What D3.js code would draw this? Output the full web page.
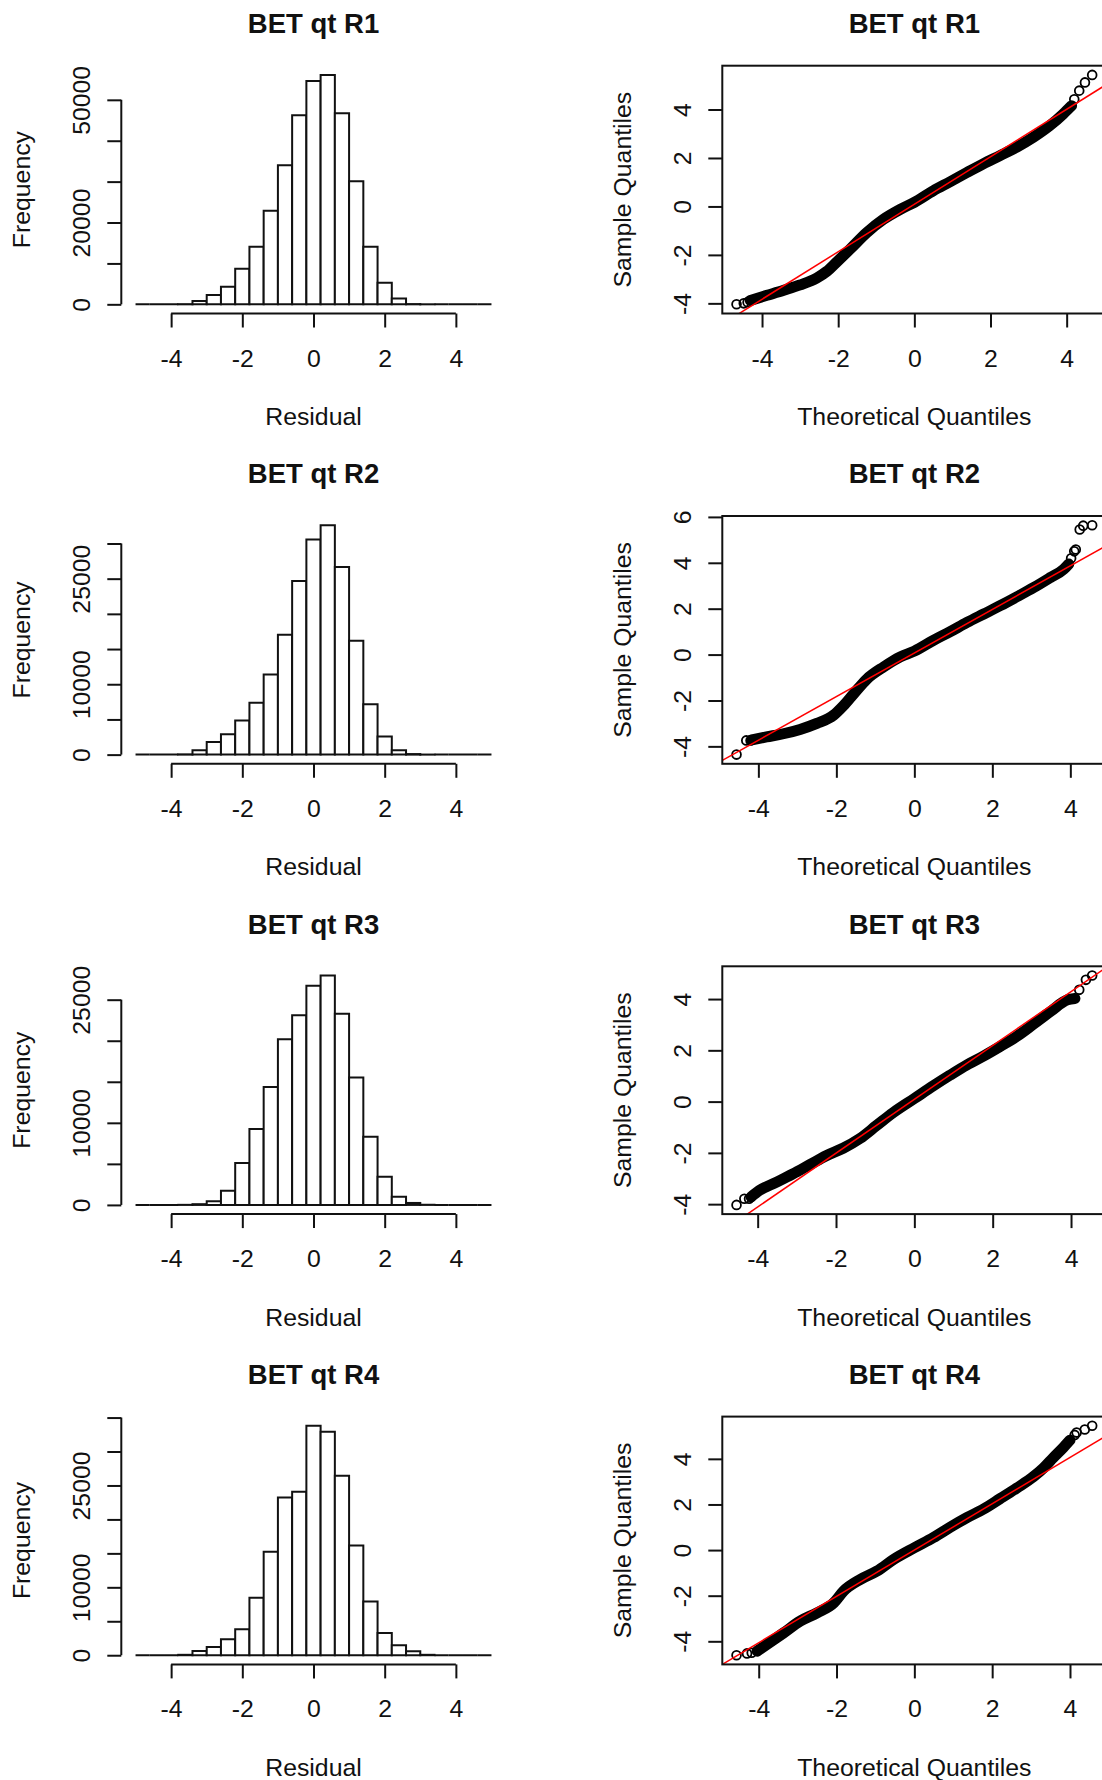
<!DOCTYPE html>
<html>
<head>
<meta charset="utf-8">
<script src="https://cdn.jsdelivr.net/npm/d3@7"></script>
<style>
	body { margin: 0; background: #fff; }
	svg text { font-family: "Liberation Sans", Arial, sans-serif; fill: #111; }
	.title { font-weight: bold; font-size: 27.5px; }
	.label { font-size: 24.8px; }
	.tick text { font-size: 24.8px; }
</style>
</head>
<body>
<svg id="chart" width="1102" height="1780"></svg>
<script>

// panel titles
const titles = ['BET qt R1', 'BET qt R2', 'BET qt R3', 'BET qt R4'];

// histogram breaks (Residual) and bin counts
const breaks = [-5, -4.6, -4.2, -3.8, -3.4, -3, -2.6, -2.2, -1.8, -1.4, -1, -0.6, -0.2, 0.2, 0.6, 1, 1.4, 1.8, 2.2, 2.6, 3, 3.4, 3.8, 4.2, 4.6, 5];
const countsR1 = [0, 0, 0, 40, 800, 2280, 4300, 8700, 14070, 22900, 34000, 46200, 54600, 56100, 46700, 30100, 14070, 5300, 1400, 60, 10, 0, 0, 0, 0];
const countsR2 = [0, 0, 0, 40, 613, 1790, 2880, 4860, 7360, 11370, 17030, 24670, 30570, 32600, 26650, 16180, 7170, 2590, 613, 80, 10, 0, 0, 0, 0];
const countsR3 = [0, 0, 0, 10, 90, 445, 1740, 5100, 9260, 14360, 20190, 23100, 26700, 27950, 23300, 15530, 8290, 3440, 1010, 240, 20, 0, 0, 0, 0];
const countsR4 = [0, 0, 0, 60, 640, 1220, 2350, 3820, 8470, 15230, 23210, 24090, 33790, 32910, 26440, 16160, 7930, 3280, 1470, 590, 60, 0, 0, 0, 0];

// histogram y ticks, and the ones that carry a label
const freqTicksR1 = [0, 10000, 20000, 30000, 40000, 50000];
const freqTicksR2 = [0, 5000, 10000, 15000, 20000, 25000, 30000];
const freqTicksR3 = [0, 5000, 10000, 15000, 20000, 25000];
const freqTicksR4 = [0, 5000, 10000, 15000, 20000, 25000, 30000, 35000];
const freqLabelsR1 = [0, 20000, 50000];
const freqLabelsR2 = [0, 10000, 25000];
const freqLabelsR3 = [0, 10000, 25000];
const freqLabelsR4 = [0, 10000, 25000];

const residualTicks = [-4, -2, 0, 2, 4];
const theoTicks = [-4, -2, 0, 2, 4];

// QQ plots: dense band of points [theoretical, sample] and the loose points at both tails
const qqBandR1 = [[-4.31, -3.88], [-3.87, -3.67], [-3.43, -3.46], [-3.0, -3.24], [-2.56, -2.95], [-2.30, -2.68], [-2.03, -2.28], [-1.68, -1.75], [-1.25, -1.08], [-0.81, -0.53], [-0.37, -0.12], [0, 0.17], [0.50, 0.65], [0.94, 1.02], [1.38, 1.40], [1.81, 1.76], [2.25, 2.10], [2.69, 2.45], [3.13, 2.86], [3.56, 3.34], [3.91, 3.82], [4.13, 4.16]];
const qqTailR1 = [[-4.67, -4.04], [-4.48, -4.0], [-4.38, -3.95], [4.20, 4.42], [4.33, 4.78], [4.48, 5.12], [4.67, 5.43]];
const qqBandR2 = [[-4.17, -3.72], [-3.79, -3.59], [-3.36, -3.45], [-2.93, -3.26], [-2.50, -3.0], [-2.07, -2.64], [-1.82, -2.23], [-1.56, -1.72], [-1.22, -1.07], [-0.79, -0.54], [-0.36, -0.10], [0, 0.15], [0.49, 0.62], [0.92, 1.00], [1.35, 1.40], [1.78, 1.77], [2.20, 2.13], [2.63, 2.52], [3.06, 2.92], [3.49, 3.36], [3.83, 3.72], [3.96, 3.95]];
const qqTailR2 = [[-4.56, -4.36], [-4.31, -3.74], [-4.20, -3.74], [4.02, 4.2], [4.10, 4.5], [4.14, 4.58], [4.24, 5.45], [4.33, 5.62], [4.56, 5.64]];
const qqBandR3 = [[-4.17, -3.72], [-3.96, -3.47], [-3.53, -3.15], [-3.10, -2.82], [-2.68, -2.47], [-2.25, -2.11], [-1.82, -1.82], [-1.39, -1.44], [-0.97, -0.94], [-0.54, -0.43], [0, 0.12], [0.49, 0.62], [0.91, 1.03], [1.34, 1.43], [1.77, 1.78], [2.20, 2.16], [2.62, 2.55], [3.05, 3.03], [3.48, 3.52], [3.91, 3.97], [4.10, 4.02]];
const qqTailR3 = [[-4.54, -4.03], [-4.34, -3.79], [-4.22, -3.79], [4.21, 4.36], [4.38, 4.75], [4.54, 4.92]];
const qqBandR4 = [[-4.04, -4.43], [-3.79, -4.14], [-3.36, -3.63], [-2.93, -3.11], [-2.50, -2.75], [-2.07, -2.31], [-1.82, -1.80], [-1.39, -1.29], [-0.96, -0.92], [-0.53, -0.41], [0, 0.10], [0.49, 0.55], [0.92, 1.00], [1.35, 1.42], [1.78, 1.80], [2.20, 2.25], [2.63, 2.72], [3.06, 3.22], [3.32, 3.60], [3.57, 4.05], [3.83, 4.50], [4.00, 4.82]];
const qqTailR4 = [[-4.57, -4.61], [-4.30, -4.53], [-4.18, -4.50], [4.12, 5.05], [4.17, 5.15], [4.38, 5.29], [4.57, 5.45]];

// qqline: [intercept, slope]
const qqLines = [[0.09, 0.98], [0.07, 0.95], [0.09, 1.05], [0.0, 1.015]];

const sampleTicksR1 = [-4, -2, 0, 2, 4];
const sampleTicksR2 = [-4, -2, 0, 2, 4, 6];
const sampleTicksR3 = [-4, -2, 0, 2, 4];
const sampleTicksR4 = [-4, -2, 0, 2, 4];

// layout
const rowPitch = 450.3;
const plotTop = 65.7, plotBottom = 313.5;
const histLeft = 121.3, histRight = 505.7;
const qqLeft = 722.3, qqRight = 1106.4;
const ink = '#111';

let svg = d3.select('#chart');

// R style axis range: data range padded by 4% on each side
function padded(lo, hi) {
	let d = (hi - lo) * 0.04;
	return [lo - d, hi + d];
}

// plain hyphen for negatives, like R
function plain(d) {
	return String(d);
}

function addTitles(g, left, right, title, xLabel, yLabel) {
	let mid = (left + right) / 2;
	let cy = (plotTop + plotBottom) / 2;
	g.append('text').attr('class', 'title')
		.attr('x', mid).attr('y', plotTop - 32.5)
		.attr('text-anchor', 'middle').text(title);
	g.append('text').attr('class', 'label')
		.attr('x', mid).attr('y', plotBottom + 111.5)
		.attr('text-anchor', 'middle').text(xLabel);
	g.append('text').attr('class', 'label')
		.attr('text-anchor', 'middle')
		.attr('transform', 'translate(' + (left - 91.5) + ',' + cy + ') rotate(-90)')
		.text(yLabel);
}

function bottomAxis(g, x, ticks) {
	let ax = g.append('g').attr('transform', 'translate(0,' + plotBottom + ')')
		.call(d3.axisBottom(x).tickValues(ticks).tickSize(14).tickSizeOuter(0).tickFormat(plain));
	ax.select('.domain').remove();
	ax.selectAll('.tick line').attr('stroke', ink).attr('stroke-width', 2);
	ax.selectAll('.tick text').attr('y', 53).attr('dy', 0).attr('fill', ink);
	return ax;
}

function leftAxis(g, left, y, ticks, format) {
	let ax = g.append('g').attr('transform', 'translate(' + left + ',0)')
		.call(d3.axisLeft(y).tickValues(ticks).tickSize(14).tickSizeOuter(0).tickFormat(format));
	ax.select('.domain').remove();
	ax.selectAll('.tick line').attr('stroke', ink).attr('stroke-width', 2);
	// rotated labels, reading upwards, as in base R
	ax.selectAll('.tick text')
		.attr('transform', 'rotate(-90)')
		.attr('x', 0).attr('y', -31).attr('dy', 0)
		.attr('text-anchor', 'middle').attr('fill', ink);
	return ax;
}

function drawHist(row, counts, ticks, labels) {
	let g = svg.append('g').attr('transform', 'translate(0,' + (row * rowPitch) + ')');
	let x = d3.scaleLinear().domain(padded(breaks[0], breaks[breaks.length - 1])).range([histLeft, histRight]);
	let y = d3.scaleLinear().domain(padded(0, d3.max(counts))).range([plotBottom, plotTop]);

	// bars as paths so that empty bins still show as a flat line
	g.selectAll('path.bar').data(counts).enter().append('path')
		.attr('class', 'bar')
		.attr('d', function(d, i) {
			let x0 = x(breaks[i]), x1 = x(breaks[i + 1]);
			return 'M' + x0 + ',' + y(0) + 'V' + y(d) + 'H' + x1 + 'V' + y(0) + 'Z';
		})
		.attr('fill', '#fff').attr('stroke', ink).attr('stroke-width', 2);

	bottomAxis(g, x, residualTicks);
	g.append('line')
		.attr('x1', x(residualTicks[0])).attr('x2', x(residualTicks[residualTicks.length - 1]))
		.attr('y1', plotBottom).attr('y2', plotBottom)
		.attr('stroke', ink).attr('stroke-width', 2);

	leftAxis(g, histLeft, y, ticks, function(d) {
		return labels.indexOf(d) >= 0 ? String(d) : '';
	});
	g.append('line')
		.attr('x1', histLeft).attr('x2', histLeft)
		.attr('y1', y(ticks[0])).attr('y2', y(ticks[ticks.length - 1]))
		.attr('stroke', ink).attr('stroke-width', 2);

	addTitles(g, histLeft, histRight, titles[row], 'Residual', 'Frequency');
}

function drawQQ(row, band, tail, line, ticks) {
	let g = svg.append('g').attr('transform', 'translate(0,' + (row * rowPitch) + ')');
	let all = band.concat(tail);
	let x = d3.scaleLinear().domain(padded(d3.min(all, d => d[0]), d3.max(all, d => d[0]))).range([qqLeft, qqRight]);
	let y = d3.scaleLinear().domain(padded(d3.min(all, d => d[1]), d3.max(all, d => d[1]))).range([plotBottom, plotTop]);

	let clipId = 'clip' + row;
	g.append('clipPath').attr('id', clipId).append('rect')
		.attr('x', qqLeft).attr('y', plotTop)
		.attr('width', qqRight - qqLeft).attr('height', plotBottom - plotTop);
	let plot = g.append('g').attr('clip-path', 'url(#' + clipId + ')');

	// the points are too dense to tell apart, so the bulk is a thick stroke
	let lineGen = d3.line().x(d => x(d[0])).y(d => y(d[1])).curve(d3.curveMonotoneX);
	plot.append('path').datum(band)
		.attr('d', lineGen)
		.attr('fill', 'none').attr('stroke', '#000')
		.attr('stroke-width', 11).attr('stroke-linecap', 'round').attr('stroke-linejoin', 'round');

	plot.selectAll('circle').data(tail).enter().append('circle')
		.attr('cx', d => x(d[0])).attr('cy', d => y(d[1]))
		.attr('r', 4.4)
		.attr('fill', 'none').attr('stroke', '#000').attr('stroke-width', 1.8);

	// qqline
	let xd = x.domain();
	plot.append('line')
		.attr('x1', x(xd[0])).attr('y1', y(line[0] + line[1] * xd[0]))
		.attr('x2', x(xd[1])).attr('y2', y(line[0] + line[1] * xd[1]))
		.attr('stroke', '#ff0000').attr('stroke-width', 1.5);

	g.append('rect')
		.attr('x', qqLeft).attr('y', plotTop)
		.attr('width', qqRight - qqLeft).attr('height', plotBottom - plotTop)
		.attr('fill', 'none').attr('stroke', ink).attr('stroke-width', 2);

	bottomAxis(g, x, theoTicks);
	leftAxis(g, qqLeft, y, ticks, plain);

	addTitles(g, qqLeft, qqRight, titles[row], 'Theoretical Quantiles', 'Sample Quantiles');
}

drawHist(0, countsR1, freqTicksR1, freqLabelsR1);
drawHist(1, countsR2, freqTicksR2, freqLabelsR2);
drawHist(2, countsR3, freqTicksR3, freqLabelsR3);
drawHist(3, countsR4, freqTicksR4, freqLabelsR4);

drawQQ(0, qqBandR1, qqTailR1, qqLines[0], sampleTicksR1);
drawQQ(1, qqBandR2, qqTailR2, qqLines[1], sampleTicksR2);
drawQQ(2, qqBandR3, qqTailR3, qqLines[2], sampleTicksR3);
drawQQ(3, qqBandR4, qqTailR4, qqLines[3], sampleTicksR4);

</script>
</body>
</html>
